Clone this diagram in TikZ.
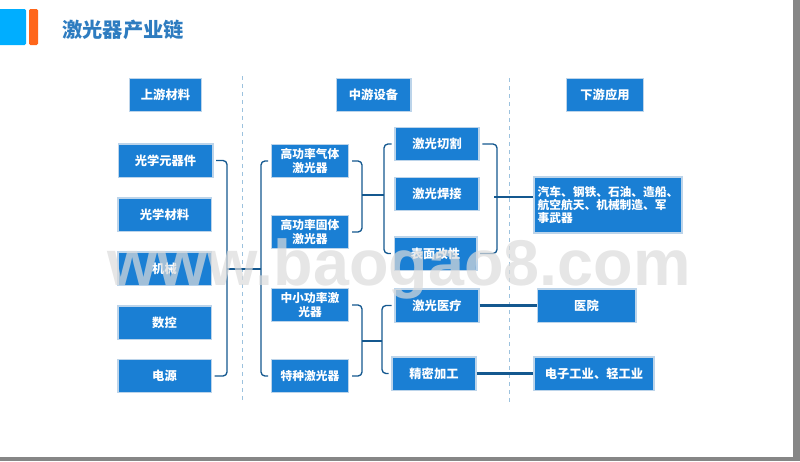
\documentclass[tikz,border=0pt]{standalone}
\usepackage{fontspec}
\setmainfont{Noto Sans CJK SC}
\usepackage{tikz}
\definecolor{boxblue}{HTML}{1A7FD4}
\definecolor{boxedge}{HTML}{BCD4EA}
\definecolor{linkblue}{HTML}{14588F}
\definecolor{sepblue}{HTML}{9CC2DE}
\definecolor{titleblue}{HTML}{2E7CC0}
\definecolor{markgray}{HTML}{DBDBDB}
\tikzset{
  box/.style={draw=boxedge,line width=1pt,fill=boxblue,text=white,font=\bfseries\fontsize{9.2}{10}\selectfont,
    align=center,minimum height=25pt,inner sep=0pt,outer sep=2.5pt},
  wide/.style={font=\bfseries\fontsize{8.8}{10}\selectfont},
  link/.style={draw=linkblue,line width=1pt,rounded corners=3pt},
  thicklink/.style={draw=linkblue,line width=1.6pt,shorten <=-2pt,shorten >=-2pt},
  sep/.style={draw=sepblue,line width=.7pt,dashed}
}
\begin{document}
\begin{tikzpicture}[x=.75pt,y=-.75pt]
    \useasboundingbox (0,0) rectangle (800,461);
    % page edge and title
    \fill[gray!95] (793,0) rectangle (800,461);
    \fill[gray!95] (0,457) rectangle (800,461);
    \fill[rounded corners=1pt,fill={rgb,255:red,0;green,174;blue,255}] (-3,9) rectangle (26,45);
    \fill[rounded corners=1pt,fill={rgb,255:red,255;green,102;blue,26}] (29,9) rectangle (38,45);
    \node (title) at (123,30) [text=titleblue,font=\bfseries\fontsize{15.2}{17}\selectfont] {激光器产业链};
    % separators
    \coordinate (sepa) at (242,76);
    \coordinate (sepb) at (242,402);
    \coordinate (sepc) at (509,78);
    \coordinate (sepd) at (509,402);
    \draw[sep] (sepa) -- (sepb);
    \draw[sep] (sepc) -- (sepd);
    % headers
    \node (up) at (165.5,95) [box,minimum width=54pt] {上游材料};
    \node (mid) at (373.5,95) [box,minimum width=56pt] {中游设备};
    \node (down) at (605,95) [box,minimum width=58pt] {下游应用};
    % left column
    \node (opt) at (165.5,160.5) [box,minimum width=71pt] {光学元器件};
    \node (mat) at (164.5,214.5) [box,minimum width=70pt] {光学材料};
    \node (mech) at (164.5,268.5) [box,minimum width=70pt] {机械};
    \node (cnc) at (164.5,322.5) [box,minimum width=70pt] {数控};
    \node (pow) at (164.5,376) [box,minimum width=70pt] {电源};
    % lasers
    \node (gas) at (310,161) [box,wide,minimum width=58pt] {高功率气体\\激光器};
    \node (solid) at (310,232) [box,wide,minimum width=58pt] {高功率固体\\激光器};
    \node (small) at (310,305) [box,wide,minimum width=58pt] {中小功率激\\光器};
    \node (spec) at (310,376) [box,wide,minimum width=58pt] {特种激光器};
    % processes
    \node (cut) at (437,144) [box,minimum width=63pt] {激光切割};
    \node (weld) at (437,194) [box,minimum width=63pt] {激光焊接};
    \node (surf) at (435.5,253.5) [box,minimum width=62pt] {表面改性};
    \node (med) at (437,305.5) [box,minimum width=63pt] {激光医疗};
    \node (prec) at (434,373.5) [box,minimum width=63pt] {精密加工};
    % applications
    \node (car) at (608,205) [box,wide,minimum width=111pt,minimum height=42pt,align=left] {汽车、钢铁、石油、造船、\\航空航天、机械制造、军\\事武器};
    \node (hosp) at (586.5,305.5) [box,minimum width=74pt] {医院};
    \node (elec) at (594,373.5) [box,minimum width=90pt] {电子工业、轻工业};
    % joints
    \coordinate (ja) at (227,269);
    \coordinate (jb) at (261,269);
    \coordinate (jc) at (362,195);
    \coordinate (jd) at (384,195);
    \coordinate (je) at (362,341);
    \coordinate (jf) at (382,341);
    \coordinate (jg) at (497,197);
    % left bracket
    \draw[link] (opt.east) -| (ja) |- (pow.east);
    \draw[link] (ja) -- (jb);
    \draw[link] (gas.west) -| (jb) |- (spec.west);
    % upper bracket
    \draw[link] (gas.east) -| (jc) |- (solid.east);
    \draw[link] (jc) -- (jd);
    \draw[link] (cut.west) -| (jd) |- (surf.west);
    \draw[link] (cut.east) -| (jg) |- (surf.east);
    \draw[thicklink] (jg) -- (jg -| car.west);
    % lower bracket
    \draw[link] (small.east) -| (je) |- (spec.east);
    \draw[link] (je) -- (jf);
    \draw[link] (med.west) -| (jf) |- (prec.west);
    \draw[thicklink] (med.east) -- (hosp.west);
    \draw[thicklink] (prec.east) -- (elec.west);
    % watermark
    \node (mark) at (399,269) [text=markgray,text opacity=.7,font=\bfseries\fontsize{48.5}{50}\selectfont] {\fontspec{Liberation Sans}www.baogao8.com};
\end{tikzpicture}
\end{document}
